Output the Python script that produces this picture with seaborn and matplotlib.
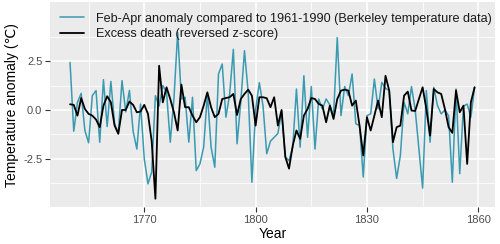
import matplotlib
matplotlib.use("Agg")
import matplotlib.pyplot as plt
import numpy as np
import pandas as pd
import seaborn as sns

# Data (1750-1859)
years = list(range(1750, 1860))

temp_anomaly = [
    2.43, -1.09, 0.39, 0.85, -1.05, -1.68, 0.73, 0.99, -1.65, 1.55,
    -0.85, 1.46, -0.70, -1.20, 1.50, -0.10, 1.00, -1.10, -2.00, 0.30,
    -2.50, -3.78, -3.17, 0.73, 0.20, 1.25, 0.90, -1.65, 0.60, 3.96,
    0.56, 0.65, -1.65, 0.65, -3.10, -2.76, -1.90, 0.82, -1.90, -2.93,
    1.84, 2.35, -0.37, 0.80, 3.10, -1.73, 0.40, 3.03, 0.90, -3.70,
    0.00, 1.40, 0.20, -2.24, -1.60, -1.40, -1.20, -0.10, -2.40, -2.60,
    -1.90, 1.07, -1.90, 1.75, -1.40, 1.20, -2.00, 0.56, 0.05, 0.56,
    0.26, -0.29, 3.70, -0.29, 1.20, 0.73, 1.84, -0.71, -0.80, -3.43,
    -0.29, -0.20, 1.58, 0.05, 1.41, 1.10, 1.00, -2.00, -3.50, -2.33,
    0.39, -0.20, 1.20, 0.00, -2.00, -4.00, 0.99, -1.65, 1.16, 0.22,
    -0.20, 0.00, -0.30, -3.70, 1.07, -3.26, 0.20, 0.30, -0.37, 1.16,
]

excess_death = [
    0.29, 0.26, -0.29, 0.61, 0.05, -0.20, -0.29, -0.49, -0.88, 0.22,
    0.70, 0.39, -0.80, -1.22, 0.00, 0.00, 0.43, 0.26, -0.12, -0.08,
    0.26, -0.20, -1.60, -4.54, 2.26, 0.39, 1.16, 0.56, -0.12, -1.05,
    1.30, 0.14, 0.14, -0.29, -0.63, -0.37, 0.22, 0.90, 0.14, -0.37,
    -0.20, 0.56, 0.61, 0.65, 0.82, -0.26, 0.56, 0.82, 1.04, 0.73,
    -0.80, 0.65, 0.65, 0.60, 0.14, 0.65, -0.80, 0.00, -2.40, -3.00,
    -1.83, -1.05, -1.48, -0.29, 0.05, 0.61, 0.56, 0.31, 0.22, -0.63,
    0.22, -0.46, 0.56, 0.99, 1.04, 0.99, 0.22, 0.48, -0.80, -2.33,
    -0.37, -1.05, -0.29, 0.48, -0.37, 1.75, 0.99, -1.65, -0.88, -0.80,
    0.73, 0.94, -0.03, -0.05, 0.56, 1.16, 0.05, -1.31, 1.07, 0.90,
    0.82, 0.05, -0.88, -1.17, 1.00, -0.12, 0.22, -2.76, 0.39, 1.16,
]

label_temp = "Feb-Apr anomaly compared to 1961-1990 (Berkeley temperature data)"
label_death = "Excess death (reversed z-score)"

df = pd.DataFrame({"Year": years, "temp": temp_anomaly, "death": excess_death})

# ggplot2-like grey theme
sns.set_theme(style="darkgrid", rc={
    "axes.facecolor": "#EBEBEB",
    "grid.color": "white",
    "axes.edgecolor": "none",
    "xtick.bottom": True,
    "ytick.left": True,
})
plt.rcParams["font.family"] = ["Liberation Sans", "DejaVu Sans"]

fig = plt.figure(figsize=(5.0, 2.44), dpi=100)
ax = fig.add_axes([0.10, 0.152, 0.89, 0.838])

sns.lineplot(data=df, x="Year", y="temp", ax=ax, color="#3A9AB2",
             linewidth=1.1, label=label_temp)
sns.lineplot(data=df, x="Year", y="death", ax=ax, color="black",
             linewidth=1.3, label=label_death)

ax.set_xlim(1744.6, 1864.5)
ax.set_ylim(-4.96, 5.5)
ax.set_xticks([1770, 1800, 1830, 1860])
ax.set_yticks([-2.5, 0.0, 2.5])
ax.set_yticklabels(["-2.5", "0.0", "2.5"])
ax.set_xticks([1755, 1785, 1815, 1845], minor=True)
ax.set_yticks([-3.75, -1.25, 1.25, 3.75], minor=True)
ax.grid(which="major", color="white", linewidth=1.1)
ax.grid(which="minor", color="white", linewidth=0.55)
ax.tick_params(axis="both", which="major", labelsize=8, labelcolor="#4D4D4D",
               length=3.5, width=0.8, color="#333333", pad=2,
               direction="out", bottom=True, left=True)
ax.tick_params(which="minor", length=0)
ax.set_xlabel("Year", fontsize=10, color="black", labelpad=2)
ax.set_ylabel("Temperature anomaly (℃)", fontsize=10, color="black", labelpad=3)

leg = ax.legend(loc="upper left", frameon=False, fontsize=9.1,
                handlelength=1.9, handletextpad=0.9, borderaxespad=0.4,
                labelspacing=0.3)
for t in leg.get_texts():
    t.set_color("#1A1A1A")

fig.savefig("out.png", dpi=100)
